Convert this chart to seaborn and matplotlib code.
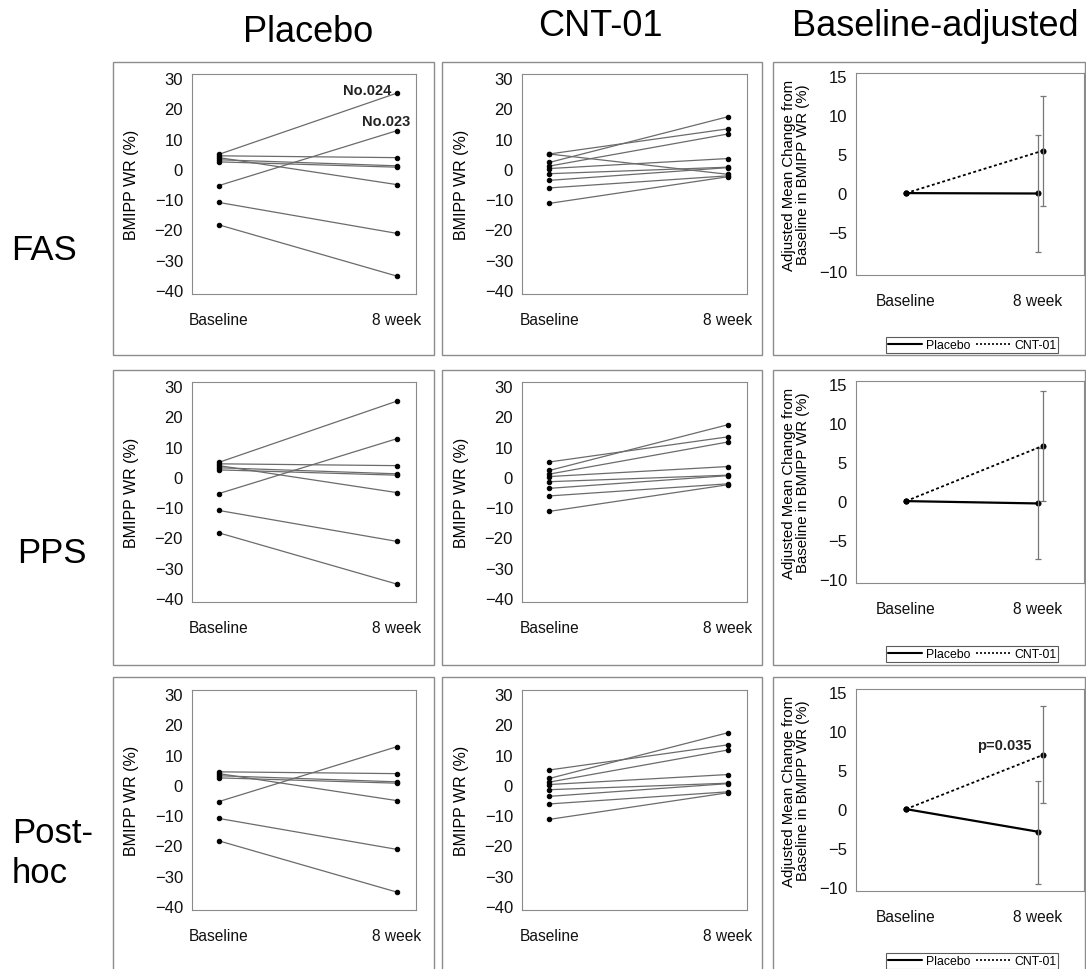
import numpy as np
import pandas as pd
import matplotlib
matplotlib.use("Agg")
import matplotlib.pyplot as plt
from matplotlib.patches import Rectangle
from matplotlib.lines import Line2D
import seaborn as sns

# ---------------- data ----------------
timepoints = ["Baseline", "8 week"]
col_titles = ["Placebo", "CNT-01", "Baseline-adjusted"]
row_titles = ["FAS", "PPS", "Post-\nhoc"]

# Individual subjects, Placebo
placebo_fas_base = [4.8, 4.3, 3.7, 3.0, 2.3, -5.5, -11.1, -18.5]
placebo_fas_wk8 = [25.0, 3.7, -5.2, 1.0, 0.55, 12.6, -21.3, -35.4]
placebo_fas_ids = ["No.024", "", "", "", "", "No.023", "", ""]
placebo_pps_base = [4.8, 4.3, 3.7, 3.0, 2.3, -5.5, -11.1, -18.5]
placebo_pps_wk8 = [25.0, 3.7, -5.2, 1.0, 0.55, 12.6, -21.3, -35.4]
placebo_post_base = [4.3, 3.7, 3.0, 2.3, -5.5, -11.1, -18.5]
placebo_post_wk8 = [3.7, -5.2, 1.0, 0.55, 12.6, -21.3, -35.4]

# Individual subjects, CNT-01
cnt_fas_base = [4.9, 4.9, 2.1, 0.9, 0.1, -1.6, -3.8, -6.3, -11.4]
cnt_fas_wk8 = [-1.8, 13.2, 17.2, 11.5, 3.4, 0.55, 0.4, -2.3, -2.6]
cnt_pps_base = [4.9, 2.1, 0.9, 0.1, -1.6, -3.8, -6.3, -11.4]
cnt_pps_wk8 = [13.2, 17.2, 11.5, 3.4, 0.55, 0.4, -2.3, -2.6]
cnt_post_base = [4.9, 2.1, 0.9, 0.1, -1.6, -3.8, -6.3, -11.4]
cnt_post_wk8 = [13.2, 17.2, 11.5, 3.4, 0.55, 0.4, -2.3, -2.6]

# Baseline-adjusted mean change (8 week) with 95% CI
adj_groups = ["Placebo", "CNT-01"]
adj_fas_mean = [-0.05, 5.45]
adj_fas_lo = [-7.5, -1.65]
adj_fas_hi = [7.4, 12.5]
adj_pps_mean = [-0.3, 7.1]
adj_pps_lo = [-7.4, 0.0]
adj_pps_hi = [6.8, 14.1]
adj_post_mean = [-2.9, 6.95]
adj_post_lo = [-9.6, 0.8]
adj_post_hi = [3.6, 13.2]
p_text_post = "p=0.035"

# ---------------- style ----------------
sns.set_style("white")
plt.rcParams["font.family"] = ["Liberation Sans", "DejaVu Sans"]
plt.rcParams["axes.linewidth"] = 0.8
plt.rcParams["text.color"] = "black"
plt.rcParams["axes.labelcolor"] = "black"

W, H = 1086, 970
fig = plt.figure(figsize=(W / 100, H / 100), dpi=100)
fig.patch.set_facecolor("white")

SPINE = "#8a8a8a"
LINEC = "#6b6b6b"


def rect(left, top, w, h):
    return [left / W, 1 - (top + h) / H, w / W, h / H]


def style_axes(ax):
    for s in ax.spines.values():
        s.set_visible(True)
        s.set_color(SPINE)
        s.set_linewidth(0.8)
    ax.tick_params(axis="both", direction="out", length=5, width=0.8,
                   color=SPINE, labelcolor="#111111")
    ax.tick_params(axis="y", labelsize=12, pad=1.5)
    ax.tick_params(axis="x", labelsize=11.2, pad=8)
    ax.set_xlabel("")


def subject_df(base, wk8):
    rows = []
    for i, (b, w) in enumerate(zip(base, wk8)):
        rows.append({"subject": i, "x": 0, "value": b})
        rows.append({"subject": i, "x": 1, "value": w})
    return pd.DataFrame(rows)


def draw_subjects(ax, base, wk8, ids=None):
    df = subject_df(base, wk8)
    sns.lineplot(data=df, x="x", y="value", units="subject", estimator=None,
                 color=LINEC, lw=0.9, marker="o", markersize=3.2,
                 markerfacecolor="black", markeredgecolor="black",
                 legend=False, ax=ax)
    ax.set_xlim(-0.152, 1.107)
    ax.set_ylim(-41.3, 31.3)
    ax.set_xticks([0, 1])
    ax.set_xticklabels(timepoints)
    ax.set_yticks([-40, -30, -20, -10, 0, 10, 20, 30])
    ax.set_ylabel("BMIPP WR (%)", fontsize=11.5)
    ax.yaxis.set_label_coords(-0.237, 0.5)
    style_axes(ax)
    if ids is not None:
        for lab, w in zip(ids, wk8):
            if lab:
                ax.text(0.97 if w > 20 else 1.075, w + (1.0 if w > 20 else 3.1), lab,
                        ha="right", va="center", fontsize=10.5, fontweight="bold",
                        color="#222222")


def draw_adjusted(ax, mean, lo, hi, ptext=None):
    offsets = [1.0, 1.038]
    lss = ["-", (0, (1.6, 1.4))]
    lws = [1.6, 1.3]
    for g, m, l, h, xo, ls, lw in zip(adj_groups, mean, lo, hi, offsets, lss, lws):
        d = pd.DataFrame({"x": [0, xo], "y": [0.0, m]})
        sns.lineplot(data=d, x="x", y="y", color="black", lw=lw, linestyle=ls,
                     marker="o", markersize=3.6, markerfacecolor="black",
                     markeredgecolor="black", legend=False, ax=ax,
                     estimator=None, sort=False)
        ax.errorbar([xo], [m], yerr=[[m - l], [h - m]], fmt="none",
                    ecolor="#777777", elinewidth=0.9, capsize=2.5, capthick=0.9)
    ax.set_xlim(-0.379, 1.348)
    ax.set_ylim(-10.5, 15.4)
    ax.set_xticks([0, 1])
    ax.set_xticklabels(timepoints)
    ax.set_yticks([-10, -5, 0, 5, 10, 15])
    ax.set_ylabel("Adjusted Mean Change from\nBaseline in BMIPP WR (%)",
                  fontsize=10.8, linespacing=1.05)
    ax.yaxis.set_label_coords(-0.20, 0.5)
    style_axes(ax)
    if ptext:
        ax.text(0.95, 8.2, ptext, ha="right", va="center", fontsize=10.5,
                fontweight="bold", color="#222222")


# ---------------- panel frames ----------------
frame_cols = [(113, 434), (442, 762), (773, 1085)]
frame_rows = [(63, 356), (371, 666), (678, 990)]
for (r0, r1) in frame_rows:
    for (c0, c1) in frame_cols:
        fig.add_artist(Rectangle((c0 / W, 1 - r1 / H), (c1 - c0) / W, (r1 - r0) / H,
                                 transform=fig.transFigure, fill=False,
                                 ec="#8c8c8c", lw=1.0))

# ---------------- axes ----------------
row_tops = [75, 383, 691]
sub_data = [
    (placebo_fas_base, placebo_fas_wk8, placebo_fas_ids, cnt_fas_base, cnt_fas_wk8),
    (placebo_pps_base, placebo_pps_wk8, None, cnt_pps_base, cnt_pps_wk8),
    (placebo_post_base, placebo_post_wk8, None, cnt_post_base, cnt_post_wk8),
]
adj_data = [
    (adj_fas_mean, adj_fas_lo, adj_fas_hi, None),
    (adj_pps_mean, adj_pps_lo, adj_pps_hi, None),
    (adj_post_mean, adj_post_lo, adj_post_hi, p_text_post),
]
legend_y = [346, 655, 962]

for r, top in enumerate(row_tops):
    pb, pw, pid, cb, cw = sub_data[r]
    ax1 = fig.add_axes(rect(192, top, 224, 220))
    draw_subjects(ax1, pb, pw, pid)
    ax2 = fig.add_axes(rect(522, top, 225, 220))
    draw_subjects(ax2, cb, cw)
    ax3 = fig.add_axes(rect(856, top - 1, 228, 202))
    m, lo, hi, pt = adj_data[r]
    draw_adjusted(ax3, m, lo, hi, pt)

    handles = [Line2D([0], [0], color="black", lw=1.5, ls="-"),
               Line2D([0], [0], color="black", lw=1.2, ls=(0, (1.2, 1.2)))]
    leg = fig.legend(handles, adj_groups, loc="center",
                     bbox_to_anchor=(972 / W, 1 - legend_y[r] / H), ncol=2,
                     frameon=True, fancybox=False, fontsize=8.8,
                     handlelength=2.8, columnspacing=0.5, handletextpad=0.3,
                     borderpad=0.15, borderaxespad=0)
    leg.get_frame().set_edgecolor("#333333")
    leg.get_frame().set_linewidth(0.8)

# ---------------- titles ----------------
for x, y, t in zip([308, 600, 935], [42, 36, 36], col_titles):
    fig.text(x / W, 1 - y / H, t, ha="center", va="baseline", fontsize=26)
fig.text(44 / W, 1 - 260 / H, row_titles[0], ha="center", va="baseline", fontsize=25)
fig.text(52 / W, 1 - 563 / H, row_titles[1], ha="center", va="baseline", fontsize=25)
fig.text(12 / W, 1 - 883 / H, row_titles[2], ha="left", va="baseline", fontsize=25,
         linespacing=1.25)

fig.savefig("out.png", dpi=100, facecolor="white")
